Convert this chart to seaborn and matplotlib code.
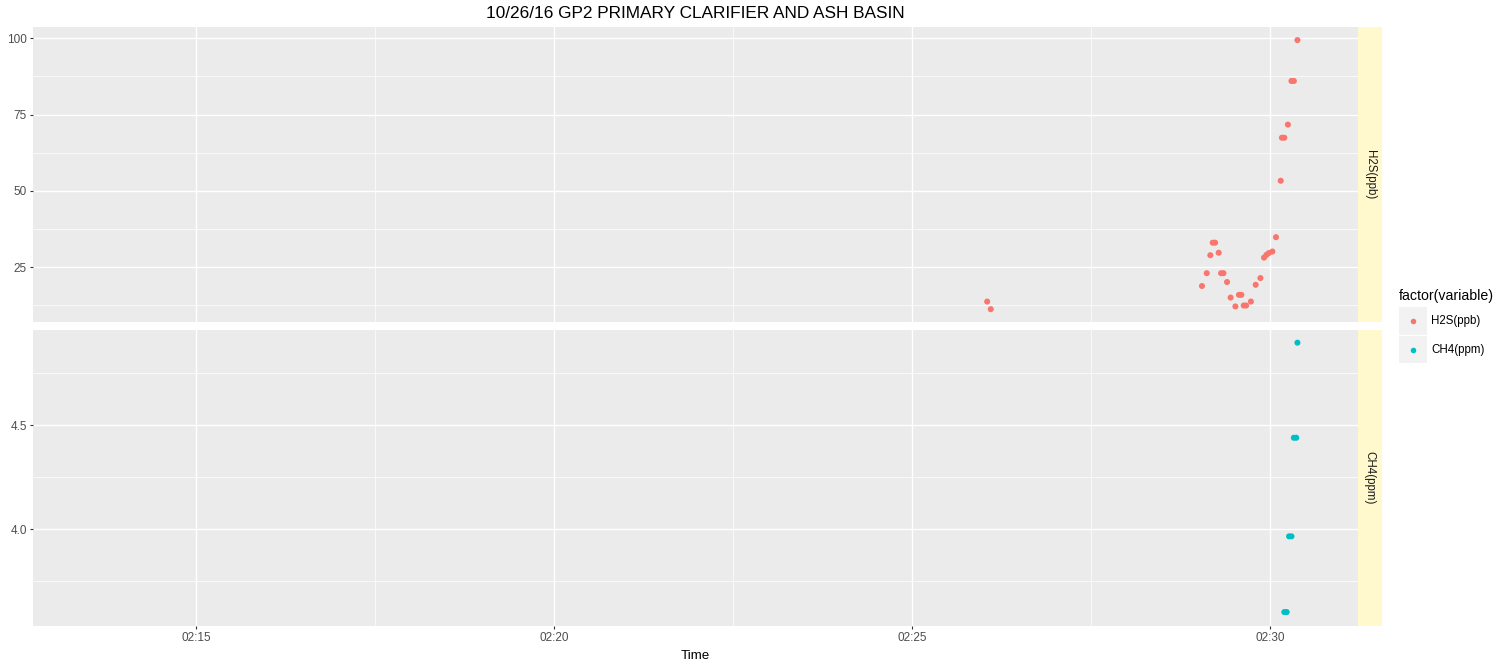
import pandas as pd
import matplotlib
matplotlib.use("Agg")
import matplotlib.pyplot as plt
import matplotlib.dates as mdates
from matplotlib.patches import Rectangle
from matplotlib.lines import Line2D
import seaborn as sns

# Measurements (local clock time, 2016-10-26)
h2s_times = ["02:26:03", "02:26:06", "02:29:03", "02:29:07", "02:29:10", "02:29:12",
             "02:29:14", "02:29:17", "02:29:19", "02:29:21", "02:29:24", "02:29:27",
             "02:29:31", "02:29:34", "02:29:36", "02:29:38", "02:29:40", "02:29:44",
             "02:29:48", "02:29:52", "02:29:55", "02:29:57", "02:29:59", "02:30:02",
             "02:30:05", "02:30:09", "02:30:10", "02:30:12", "02:30:15", "02:30:18",
             "02:30:20", "02:30:23"]
h2s_values = [13.7, 11.2, 18.8, 23.0, 28.9, 33.0,
              33.0, 29.7, 23.0, 23.0, 20.1, 15.0,
              12.1, 15.9, 15.9, 12.4, 12.4, 13.7,
              19.2, 21.4, 28.1, 29.0, 29.6, 30.1,
              34.8, 53.3, 67.4, 67.4, 71.7, 86.0,
              86.0, 99.4]

ch4_times = ["02:30:12", "02:30:14", "02:30:16", "02:30:18", "02:30:20", "02:30:22", "02:30:23"]
ch4_values = [3.601, 3.601, 3.965, 3.965, 4.439, 4.439, 4.896]

variables = ["H2S(ppb)", "CH4(ppm)"]
colors = {"H2S(ppb)": "#F8766D", "CH4(ppm)": "#00BFC4"}

day = "2016-10-26 "
df = pd.concat([
    pd.DataFrame({"Time": pd.to_datetime([day + t for t in h2s_times]),
                  "value": h2s_values, "variable": "H2S(ppb)"}),
    pd.DataFrame({"Time": pd.to_datetime([day + t for t in ch4_times]),
                  "value": ch4_values, "variable": "CH4(ppm)"}),
], ignore_index=True)

plt.rcParams["font.family"] = ["Liberation Sans", "DejaVu Sans"]

W, H = 1512, 667
fig = plt.figure(figsize=(W / 100, H / 100), dpi=100)
fig.patch.set_facecolor("white")

def fx(px):
    return px / W

def fy(py):
    return 1 - py / H

panel_l, panel_r, strip_r = 33, 1357.7, 1382
panels = [(27.3, 322.3), (330, 626)]

xlim = (pd.Timestamp(day + "02:12:43.4"), pd.Timestamp(day + "02:31:13.5"))
ylims = [(6.9, 103.6), (3.534, 4.957)]
yticks = [[25, 50, 75, 100], [4.0, 4.5]]
yminor = [[12.5, 37.5, 62.5, 87.5], [3.75, 4.25, 4.75]]
ylabels = [["25", "50", "75", "100"], ["4.0", "4.5"]]

major_x = [pd.Timestamp(day + t) for t in ["02:15", "02:20", "02:25", "02:30"]]
minor_x = [pd.Timestamp(day + t) for t in ["02:17:30", "02:22:30", "02:27:30"]]

axes = []
for i, (var, (top, bot)) in enumerate(zip(variables, panels)):
    ax = fig.add_axes([fx(panel_l), fy(bot), fx(panel_r - panel_l), (bot - top) / H])
    ax.set_facecolor("#EBEBEB")
    sub = df[df["variable"] == var]
    sns.scatterplot(data=sub, x="Time", y="value", hue="variable",
                    palette=colors, s=19, linewidth=0, legend=False, ax=ax, zorder=3)
    ax.set_xticks(major_x)
    ax.set_xticks(minor_x, minor=True)
    ax.set_yticks(yticks[i])
    ax.set_yticks(yminor[i], minor=True)
    ax.set_yticklabels(ylabels[i])
    ax.set_xlim(*xlim)
    ax.set_ylim(*ylims[i])
    ax.xaxis.set_major_formatter(mdates.DateFormatter("%H:%M"))
    ax.grid(which="major", color="white", linewidth=1.0, zorder=1)
    ax.grid(which="minor", color="white", linewidth=0.5, zorder=1)
    ax.set_axisbelow(True)
    for sp in ax.spines.values():
        sp.set_visible(False)
    ax.tick_params(axis="both", which="major", length=2.5, width=0.8, color="#333333",
                   labelcolor="#4D4D4D", labelsize=8.5, pad=2)
    ax.tick_params(axis="both", which="minor", length=0)
    ax.set_xlabel("")
    ax.set_ylabel("")
    if i == 0:
        ax.tick_params(axis="x", which="both", bottom=False, labelbottom=False)
    axes.append(ax)

    # facet strip on the right
    sax = fig.add_axes([fx(panel_r), fy(bot), fx(strip_r - panel_r), (bot - top) / H])
    sax.set_facecolor("#FFF9CD")
    sax.set_xticks([])
    sax.set_yticks([])
    for sp in sax.spines.values():
        sp.set_visible(False)
    sax.text(0.5, 0.5, var, rotation=270, ha="center", va="center",
             fontsize=8.3, color="#1A1A1A", transform=sax.transAxes)

fig.text(fx((panel_l + panel_r) / 2), fy(13), "10/26/16 GP2 PRIMARY CLARIFIER AND ASH BASIN",
         ha="center", va="center", fontsize=12.4, color="black")
fig.text(fx((panel_l + panel_r) / 2), fy(656), "Time", ha="center", va="center",
         fontsize=9.6, color="black")

# legend
fig.text(fx(1399), fy(296), "factor(variable)", ha="left", va="center",
         fontsize=10.2, color="black")
key_top = 307
key_h = 28.5
for j, var in enumerate(variables):
    y0 = key_top + j * key_h
    fig.patches.append(Rectangle((fx(1399), fy(y0 + key_h - 1)), fx(27.5), (key_h - 1) / H,
                                 transform=fig.transFigure, facecolor="#F2F2F2",
                                 edgecolor="none"))
    fig.lines.append(Line2D([fx(1412.5)], [fy(y0 + key_h / 2)], transform=fig.transFigure,
                            marker="o", markersize=4.0, markeredgewidth=0,
                            color=colors[var], linestyle="none"))
    fig.text(fx(1431), fy(y0 + key_h / 2), var, ha="left", va="center",
             fontsize=8.3, color="black")

fig.savefig("out.png", dpi=100, facecolor="white")
